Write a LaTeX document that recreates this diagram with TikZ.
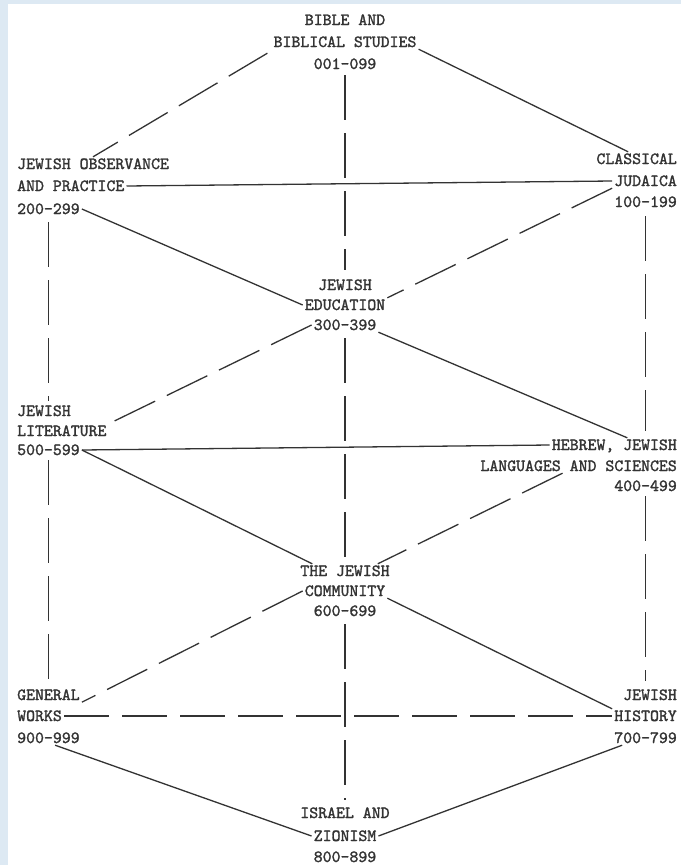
\documentclass[tikz,border=0pt]{standalone}
\usepackage{fontspec}
\newfontfamily\tw{lmmono10-regular.otf}[FakeBold=1.6]
\usetikzlibrary{calc}
\definecolor{frameblue}{HTML}{DDE9F3}
\definecolor{ink}{HTML}{333333}
\begin{document}
\begin{tikzpicture}[x=1pt,y=-1pt,
  lbl/.style={inner sep=2pt, text height=10pt, text depth=0pt, font={\tw\fontsize{17}{20}\selectfont}, text=ink},
  lft/.style={lbl, anchor=west},
  rgt/.style={lbl, anchor=east},
  ctr/.style={lbl},
  link/.style={draw=ink, line width=1.3pt},
  dlink/.style={link, dash pattern=on 45pt off 13pt}]
\fill[frameblue] (0,0) rectangle (681,865);
\fill[white] (8,4) rectangle (681,865);
\useasboundingbox (0,0) rectangle (681,865);
% labels
\node[ctr] (bibA) at (345,20) {BIBLE AND};
\node[ctr] (bibB) at (345,42) {BIBLICAL STUDIES};
\node[ctr] (bibC) at (345,64) {001-099};
\node[lft] (obsA) at (15,164) {JEWISH OBSERVANCE};
\node[lft] (obsB) at (15,186) {AND PRACTICE};
\node[lft] (obsC) at (15,209) {200-299};
\node[rgt] (claA) at (679,159) {CLASSICAL};
\node[rgt] (claB) at (679,181) {JUDAICA};
\node[rgt] (claC) at (679,202) {100-199};
\node[ctr] (eduA) at (345,285) {JEWISH};
\node[ctr] (eduB) at (345,305) {EDUCATION};
\node[ctr] (eduC) at (345,325) {300-399};
\node[lft] (litA) at (15,411) {JEWISH};
\node[lft] (litB) at (15,431) {LITERATURE};
\node[lft] (litC) at (15,450) {500-599};
\node[rgt] (hebA) at (679,445) {HEBREW, JEWISH};
\node[rgt] (hebB) at (679,466) {LANGUAGES AND SCIENCES};
\node[rgt] (hebC) at (679,486) {400-499};
\node[ctr] (comA) at (345,571) {THE JEWISH};
\node[ctr] (comB) at (345,591) {COMMUNITY};
\node[ctr] (comC) at (345,611) {600-699};
\node[lft] (genA) at (15,695) {GENERAL};
\node[lft] (genB) at (15,716) {WORKS};
\node[lft] (genC) at (15,738) {900-999};
\node[rgt] (hisA) at (679,695) {JEWISH};
\node[rgt] (hisB) at (679,716) {HISTORY};
\node[rgt] (hisC) at (679,738) {700-799};
\node[ctr] (isrA) at (345,813) {ISRAEL AND};
\node[ctr] (isrB) at (345,836) {ZIONISM};
\node[ctr] (isrC) at (345,857) {800-899};
% centre vertical
\draw[dlink, shorten <=4pt, shorten >=8pt] (bibC.south) -- (eduA.north);
\draw[dlink, shorten <=6pt, shorten >=6pt] (eduC.south) -- (comA.north);
\draw[dlink, shorten <=6pt, shorten >=6pt] (comC.south) -- (isrA.north);
% side verticals
\draw[dlink, shorten <=6pt, shorten >=3pt] (obsC.south) -- (obsC.south |- litA.north);
\draw[dlink, shorten <=3pt, shorten >=3pt] (litC.south) -- (litC.south |- genA.north);
\draw[dlink, shorten <=7pt, shorten >=7pt] (claC.south) -- (claC.south |- hebA.north);
\draw[dlink, shorten <=3pt, shorten >=7pt] (hebC.south) -- (hebC.south |- hisA.north);
% top
\draw[dlink] ($(bibB.south west)+(-4,4)$) -- (obsA.north);
\draw[link] (bibB.south east) -- ($(claA.north west)!0.4!(claA.north east)$);
\draw[link] (obsB.east) -- (claB.west);
\draw[link] (obsC.east) -- (eduB.west);
\draw[dlink] (claB.south west) -- (eduB.north east);
% middle
\draw[dlink] (eduC.west) -- (litB.north east);
\draw[link] (eduC.south east) -- ($(hebA.north west)!0.6!(hebA.north east)$);
\draw[link] (litC.east) -- (hebA.west);
\draw[link] (litC.east) -- ($(comA.north west)!0.15!(comA.north east)$);
\draw[dlink] ($(hebB.south west)!0.42!(hebB.south east)$) -- ($(comA.north west)!0.85!(comA.north east)$);
% lower
\draw[dlink] (comB.west) -- (genA.south east);
\draw[link] (comB.south east) -- (hisB.north west);
\draw[dlink] (genB.east) -- (hisB.west);
\draw[link] ($(genC.south west)!0.6!(genC.south east)$) -- (isrB.west);
\draw[link] ($(hisC.south west)!0.15!(hisC.south east)$) -- (isrB.east);
\end{tikzpicture}
\end{document}
